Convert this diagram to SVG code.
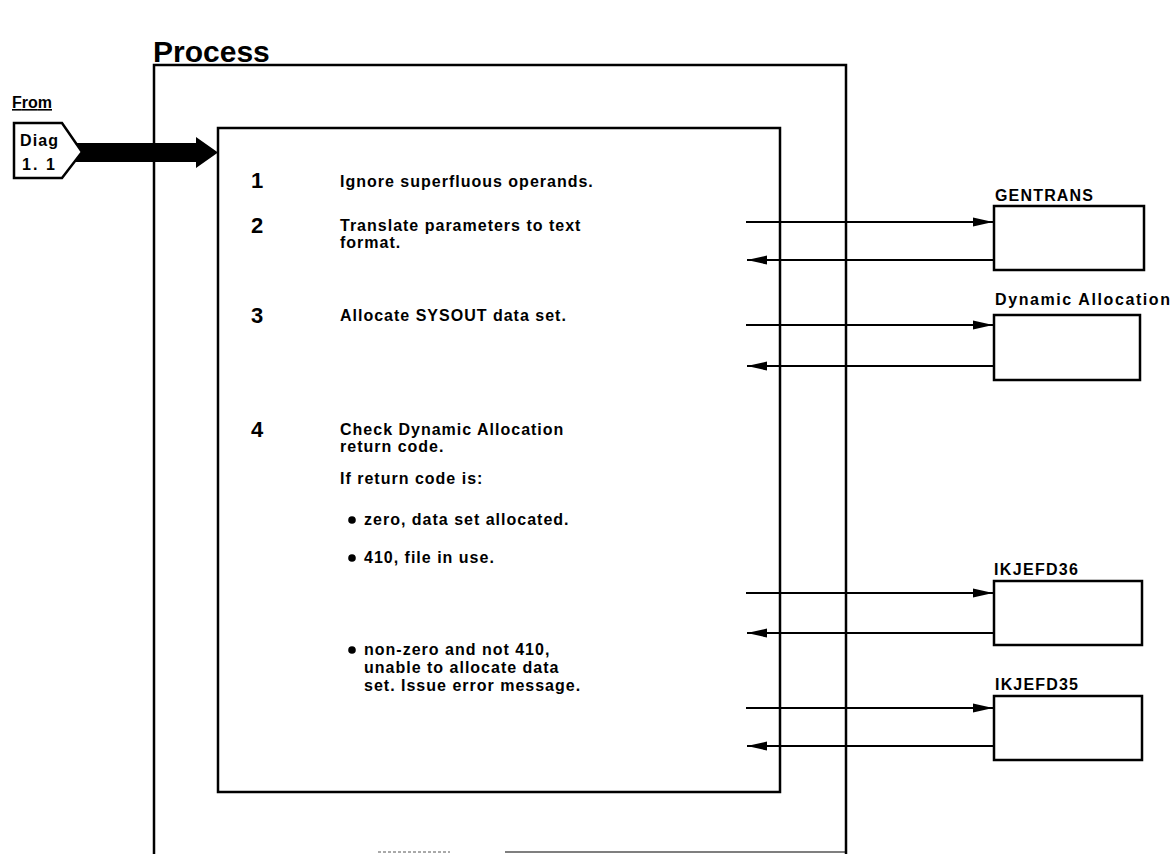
<svg xmlns="http://www.w3.org/2000/svg" width="1176" height="854" viewBox="0 0 1176 854">
<style>
  text { font-family: "Liberation Sans", Arial, sans-serif; font-weight: bold; fill: #000; }
  .title { font-size: 30px; }
  .num { font-size: 22px; }
  .body { font-size: 16px; letter-spacing: 1px; }
  .lbl { font-size: 16px; }
  .box { fill: #fff; stroke: #000; stroke-width: 2.5; }
  .conn { stroke: #000; stroke-width: 2; fill: none; }
</style>
<defs>
  <marker id="ah" viewBox="0 0 20 12" refX="20" refY="6" markerWidth="20" markerHeight="12" markerUnits="userSpaceOnUse" orient="auto">
    <path d="M0,1.5 L20,6 L0,10.5 z" fill="#000"/>
  </marker>
</defs>
<rect width="1176" height="854" fill="#fff"/>

<text class="title" x="153" y="62">Process</text>

<g id="outer-frame">
  <path d="M154,854 L154,65 L846,65 L846,854" fill="none" stroke="#000" stroke-width="2.5"/>
  <line x1="505" y1="852" x2="846" y2="852" stroke="#000" stroke-width="1.2"/>
  <line x1="378" y1="852" x2="450" y2="852" stroke="#555" stroke-width="1" stroke-dasharray="3 2"/>
</g>

<g id="offpage-from">
  <text class="lbl" x="12" y="108" font-size="14" textLength="40" text-decoration="underline">From</text>
  <path d="M70,143 L196,143 L196,137 L218,152.5 L196,168 L196,162 L70,162 z" fill="#000"/>
  <path d="M14,123 L62,123 L82,152 L62,178 L14,178 z" class="box" stroke-width="2"/>
  <text class="lbl" x="20" y="146" textLength="38">Diag</text>
  <text class="lbl" x="22" y="170" textLength="33">1. 1</text>
</g>

<g id="process-box">
  <rect x="218" y="128" width="562" height="664" class="box"/>
  <text class="num" x="251" y="188">1</text>
  <text class="body" x="340" y="187">Ignore superfluous operands.</text>
  <text class="num" x="251" y="233">2</text>
  <text class="body" x="340" y="231">Translate parameters to text</text>
  <text class="body" x="340" y="248">format.</text>
  <text class="num" x="251" y="323">3</text>
  <text class="body" x="340" y="321">Allocate SYSOUT data set.</text>
  <text class="num" x="251" y="437">4</text>
  <text class="body" x="340" y="435">Check Dynamic Allocation</text>
  <text class="body" x="340" y="452">return code.</text>
  <text class="body" x="340" y="484">If return code is:</text>
  <circle cx="352" cy="520" r="3.8" fill="#000"/>
  <text class="body" x="364" y="525">zero, data set allocated.</text>
  <circle cx="352" cy="558" r="3.8" fill="#000"/>
  <text class="body" x="364" y="563">410, file in use.</text>
  <circle cx="352" cy="650" r="3.8" fill="#000"/>
  <text class="body" x="364" y="655">non-zero and not 410,</text>
  <text class="body" x="364" y="673">unable to allocate data</text>
  <text class="body" x="364" y="691">set.  Issue error message.</text>
</g>

<g id="gentrans">
  <text class="lbl" x="995" y="201" textLength="98">GENTRANS</text>
  <rect x="994" y="206" width="150" height="64" class="box"/>
</g>
<g id="dynalloc">
  <text class="lbl" x="995" y="305" textLength="175">Dynamic Allocation</text>
  <rect x="994" y="315" width="146" height="65" class="box"/>
</g>
<g id="ikjefd36">
  <text class="lbl" x="994" y="575" textLength="84">IKJEFD36</text>
  <rect x="994" y="581" width="148" height="64" class="box"/>
</g>
<g id="ikjefd35">
  <text class="lbl" x="995" y="690" textLength="83">IKJEFD35</text>
  <rect x="994" y="696" width="148" height="64" class="box"/>
</g>

<g id="connectors">
  <line class="conn" x1="746" y1="222" x2="993" y2="222" marker-end="url(#ah)"/>
  <line class="conn" x1="994" y1="260" x2="747" y2="260" marker-end="url(#ah)"/>
  <line class="conn" x1="746" y1="325" x2="993" y2="325" marker-end="url(#ah)"/>
  <line class="conn" x1="994" y1="366" x2="747" y2="366" marker-end="url(#ah)"/>
  <line class="conn" x1="746" y1="593" x2="993" y2="593" marker-end="url(#ah)"/>
  <line class="conn" x1="994" y1="633" x2="747" y2="633" marker-end="url(#ah)"/>
  <line class="conn" x1="746" y1="708" x2="993" y2="708" marker-end="url(#ah)"/>
  <line class="conn" x1="994" y1="746" x2="747" y2="746" marker-end="url(#ah)"/>
</g>
</svg>
